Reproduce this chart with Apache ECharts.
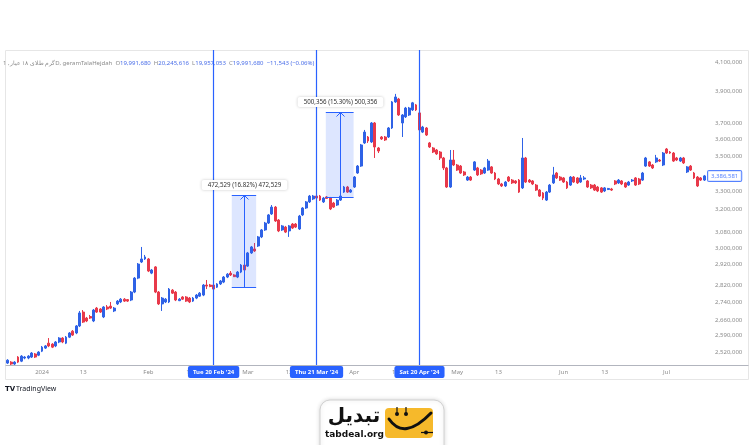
<!DOCTYPE html>
<html>
<head>
<meta charset="utf-8">
<title>geramTalaHejdah</title>
<script src="https://cdn.jsdelivr.net/npm/echarts@6.0.0/dist/echarts.min.js"></script>
<style>
html,body{margin:0;padding:0;background:#ffffff;}
#chart{width:755px;height:445px;}
</style>
</head>
<body>
<div id="chart"></div>
<script>
// ---------------- data (prices in thousands) ----------------
const firstDate = '2023-12-22';
const PRICE_UNIT = 1000;
const opens = [
2474,2478,2470,2499,2482,2495,2495,2499,2512,2507,
2524,2537,2558,2554,2546,2563,2580,2558,2584,2610,
2602,2633,2695,2668,2675,2655,2713,2709,2673,2718,
2722,2700,2732,2741,2754,2752,2750,2787,2853,2931,
2946,2946,2877,2907,2787,2732,2741,2741,2796,2787,
2747,2764,2764,2759,2745,2759,2768,2773,2820,2820,
2820,2810,2825,2834,2858,2877,2868,2858,2882,2916,
2911,2976,2996,3011,3057,3093,3129,3177,3214,3145,
3093,3108,3088,3124,3124,3098,3172,3209,3242,3258,
3274,3274,3242,3269,3263,3236,3225,3252,3296,3324,
3296,3324,3403,3443,3579,3615,3585,3701,3549,3615,
3615,3615,3670,3834,3853,3701,3739,3751,3783,3815,
3764,3645,3670,3579,3549,3537,3525,3490,3432,3324,
3478,3449,3443,3409,3363,3380,3420,3432,3420,3403,
3420,3438,3403,3369,3341,3330,3380,3363,3358,3363,
3319,3490,3363,3358,3335,3307,3291,3252,3296,3347,
3403,3380,3375,3352,3335,3380,3375,3352,3369,3358,
3335,3335,3324,3319,3302,3310,3313,3358,3347,3358,
3347,3335,3358,3375,3369,3363,3443,3467,3449,3467,
3478,3449,3543,3525,3519,3490,3472,3490,3409,3443,
3403,3380,3375,3363
];
const closes = [
2486,2470,2478,2478,2503,2499,2503,2516,2499,2520,
2541,2546,2546,2541,2563,2580,2563,2584,2602,2593,
2633,2691,2650,2655,2668,2704,2695,2695,2718,2709,
2713,2713,2745,2754,2745,2745,2787,2853,2921,2946,
2956,2887,2892,2787,2732,2759,2754,2801,2782,2750,
2754,2754,2745,2741,2759,2773,2782,2820,2815,2813,
2801,2825,2839,2858,2872,2868,2860,2882,2916,2892,
2976,3006,2986,3057,3093,3129,3172,3214,3140,3088,
3114,3082,3114,3103,3108,3166,3209,3242,3274,3274,
3263,3252,3263,3261,3204,3214,3252,3274,3324,3296,
3307,3380,3443,3567,3645,3591,3701,3555,3531,3603,
3597,3670,3834,3866,3751,3751,3795,3795,3828,3783,
3658,3676,3627,3555,3525,3514,3490,3432,3324,3478,
3449,3420,3403,3392,3380,3363,3467,3392,3398,3432,
3472,3403,3369,3341,3330,3352,3358,3347,3347,3296,
3490,3352,3352,3341,3307,3274,3263,3296,3335,3392,
3375,3363,3352,3319,3380,3352,3347,3375,3375,3324,
3319,3307,3302,3296,3319,3316,3307,3341,3363,3341,
3324,3352,3363,3335,3341,3403,3490,3443,3432,3490,
3472,3519,3519,3519,3472,3478,3490,3461,3438,3420,
3375,3330,3363,3386.581
];
const lows = [
2470,2466,2466,2474,2478,2490,2490,2495,2495,2503,
2520,2533,2541,2537,2541,2558,2558,2554,2580,2589,
2597,2628,2646,2650,2664,2650,2691,2691,2668,2704,
2709,2695,2727,2736,2741,2741,2745,2782,2848,2926,
2941,2882,2872,2782,2727,2700,2736,2736,2778,2745,
2745,2750,2741,2736,2741,2754,2764,2768,2801,2810,
2796,2806,2820,2829,2853,2863,2858,2853,2877,2887,
2907,2971,2981,3006,3051,3088,3124,3172,3135,3082,
3088,3077,3057,3098,3103,3093,3166,3204,3236,3252,
3258,3247,3236,3258,3198,3209,3220,3247,3291,3291,
3291,3319,3398,3438,3573,3579,3579,3490,3519,3597,
3591,3609,3664,3828,3745,3615,3732,3745,3776,3776,
3652,3639,3621,3549,3519,3508,3478,3420,3319,3319,
3443,3415,3398,3386,3358,3358,3415,3386,3392,3398,
3415,3398,3363,3335,3324,3324,3352,3341,3341,3291,
3313,3347,3347,3335,3302,3269,3252,3247,3291,3341,
3369,3358,3347,3313,3330,3347,3341,3347,3363,3319,
3313,3302,3296,3291,3296,3307,3302,3335,3341,3335,
3319,3330,3352,3330,3335,3358,3438,3438,3426,3461,
3467,3443,3514,3514,3467,3472,3467,3455,3403,3415,
3369,3324,3358,3358
];
const highs = [
2490,2482,2482,2503,2507,2503,2507,2520,2516,2524,
2546,2550,2580,2558,2567,2584,2584,2589,2606,2615,
2637,2700,2704,2673,2682,2709,2718,2713,2722,2727,
2741,2718,2750,2759,2759,2754,2792,2858,2926,3006,
2966,2951,2897,2911,2792,2764,2759,2806,2801,2792,
2759,2768,2768,2764,2764,2778,2787,2825,2844,2825,
2825,2829,2844,2863,2877,2887,2872,2887,2921,2921,
2981,3011,3026,3062,3098,3135,3177,3225,3220,3150,
3119,3114,3119,3129,3129,3172,3214,3247,3280,3280,
3280,3280,3269,3274,3269,3242,3258,3280,3330,3330,
3313,3386,3449,3573,3658,3621,3707,3707,3555,3621,
3621,3676,3840,3886,3860,3757,3802,3802,3834,3821,
3770,3683,3676,3585,3555,3543,3531,3496,3438,3537,
3537,3455,3449,3415,3386,3386,3472,3438,3426,3438,
3484,3443,3409,3375,3347,3358,3386,3369,3363,3369,
3609,3496,3369,3363,3341,3313,3296,3302,3341,3438,
3409,3386,3380,3358,3386,3386,3380,3392,3386,3363,
3341,3341,3330,3324,3324,3319,3319,3363,3369,3363,
3352,3358,3369,3380,3375,3409,3496,3472,3455,3508,
3484,3525,3549,3531,3525,3496,3496,3496,3443,3449,
3409,3386,3380,3392
];
const yTicks = [2520000,2590000,2660000,2740000,2820000,2920000,3000000,3080000,3200000,3300000,3500000,3600000,3700000,3900000,4100000];
const xTickLabels = {
  '2024-01-01':'2024','2024-01-13':'13','2024-02-01':'Feb','2024-02-13':'13',
  '2024-03-01':'Mar','2024-03-13':'13','2024-04-01':'Apr','2024-04-13':'13',
  '2024-05-01':'May','2024-05-13':'13','2024-06-01':'Jun','2024-06-13':'13','2024-07-01':'Jul'
};
const markerDates = ['2024-02-20','2024-03-21','2024-04-20'];
const markerLabels = ["Tue 20 Feb '24","Thu 21 Mar '24","Sat 20 Apr '24"];
const measureStart = [65.3, 92.7];
const measureEnd = [72.4, 100.8];
const measureLow = [2809328, 3270300];
const measureHigh = [3281857, 3770656];
const yMin = 2466000, yMax = 4183000;
const headerName = 'گرم طلای ۱۸ عیار, 1D, geramTalaHejdah';
const headerValues = [['O','19,991,680'],['H','20,245,616'],['L','19,957,053'],['C','19,991,680']];
const headerChange = '−11,543 (−0.06%)';

// ---------------- build ----------------
const UP = '#2f62e6', DOWN = '#e8394a', BLUE = '#2962ff', GREY = '#8c8c8c';
const FONT = 'Noto Sans';
const dates = [];
(function(){
  const p = firstDate.split('-').map(Number);
  const t0 = Date.UTC(p[0], p[1]-1, p[2]);
  for (let i = 0; i < opens.length; i++) dates.push(new Date(t0 + i*86400000).toISOString().slice(0,10));
})();
const candleData = opens.map((o,i) => [o, closes[i], lows[i], highs[i]].map(v => Math.round(v*PRICE_UNIT)));
const fmt = v => Math.round(v).toLocaleString('en-US');
const lastClose = candleData[candleData.length-1][1];

const markLineData = markerDates.map((d,i) => ({
  xAxis: d,
  lineStyle: {color: BLUE, width: 1.2, type: 'solid', opacity: 1},
  label: {show: true, position: 'start', distance: 1, formatter: markerLabels[i],
    color: '#fff', backgroundColor: BLUE, padding: [3,5,2,5], borderRadius: 2,
    fontSize: 6, fontFamily: FONT, fontWeight: 'bold', lineHeight: 7}
}));

let headerRich = '{g|' + headerName + '}';
headerValues.forEach(h => { headerRich += '  {g|' + h[0] + '}{v|' + h[1] + '}'; });
headerRich += '  {v|' + headerChange + '}';

const chart = echarts.init(document.getElementById('chart'), null, {renderer: 'canvas'});
chart.setOption({
  animation: false,
  backgroundColor: '#ffffff',
  grid: {left: 6, right: 49, top: 50, bottom: 80, containLabel: false, outerBoundsMode: 'none'},
  xAxis: {
    type: 'category', data: dates, boundaryGap: true,
    axisLine: {show: true, lineStyle: {color: '#b2b5be', width: 1}},
    axisTick: {show: false}, splitLine: {show: false},
    axisLabel: {
      interval: (idx, val) => Object.prototype.hasOwnProperty.call(xTickLabels, val),
      formatter: v => xTickLabels[v] || '',
      color: GREY, fontSize: 6, fontFamily: FONT, margin: 4, hideOverlap: false
    }
  },
  yAxis: {
    type: 'log', logBase: 10, position: 'right', min: yMin, max: yMax,
    axisLine: {show: false}, axisTick: {show: false}, splitLine: {show: false},
    axisLabel: {customValues: yTicks, formatter: v => fmt(v), color: GREY, fontSize: 6,
      fontFamily: FONT, margin: 9, align: 'left', hideOverlap: false}
  },
  series: [
    {
      type: 'candlestick', data: candleData, barWidth: '70%',
      itemStyle: {color: UP, color0: DOWN, borderColor: UP, borderColor0: DOWN, borderWidth: 1},
      markLine: {symbol: ['none','none'], silent: true, animation: false, precision: 0,
        lineStyle: {color: BLUE, width: 1.2, type: 'solid', opacity: 1}, data: markLineData}
    },
    {
      // last price tag on the price scale
      type: 'scatter', silent: true, z: 6, symbolSize: 0,
      data: [[dates[dates.length - 1], lastClose]],
      label: {show: true, position: 'right', distance: 2 + 700 / dates.length / 2,
        formatter: p => fmt(p.value[1]), color: BLUE, backgroundColor: '#fff',
        borderColor: BLUE, borderWidth: 1, padding: [2,3,1,3], borderRadius: 1,
        fontSize: 6, fontFamily: FONT, lineHeight: 7}
    },
    {
      type: 'custom', silent: true, clip: false, z: 5,
      data: measureLow.map((lo,i) => [Math.floor(measureStart[i]), lo]),
      encode: {x: 0, y: 1},
      renderItem: (params, api) => {
        const i = params.dataIndex;
        const s = measureStart[i], e = measureEnd[i];
        const lo = measureLow[i], hi = measureHigh[i];
        const bw = api.size([1, 0])[0];
        const sf = Math.floor(s), ef = Math.floor(e);
        const x0 = api.coord([sf, lo])[0] + (s - sf) * bw;
        const x1 = api.coord([ef, lo])[0] + (e - ef) * bw;
        const yLo = Math.round(api.coord([sf, lo])[1]) + 0.5;
        const yHi = Math.round(api.coord([sf, hi])[1]) + 0.5;
        const cx = Math.round((x0 + x1) / 2) + 0.5;
        const diff = hi - lo;
        const txt = fmt(diff) + ' (' + (diff / lo * 100).toFixed(2) + '%) ' + fmt(diff);
        return {
          type: 'group',
          children: [
            {type: 'rect', shape: {x: x0, y: yHi, width: x1 - x0, height: yLo - yHi}, style: {fill: 'rgba(41,98,255,0.16)'}},
            {type: 'line', shape: {x1: x0, y1: yHi, x2: x1, y2: yHi}, style: {stroke: BLUE, lineWidth: 1}},
            {type: 'line', shape: {x1: x0, y1: yLo, x2: x1, y2: yLo}, style: {stroke: BLUE, lineWidth: 1}},
            {type: 'line', shape: {x1: cx, y1: yLo, x2: cx, y2: yHi}, style: {stroke: BLUE, lineWidth: 1}},
            {type: 'polyline', shape: {points: [[cx - 4, yHi + 4], [cx, yHi], [cx + 4, yHi + 4]]}, style: {stroke: BLUE, fill: null, lineWidth: 1}},
            {type: 'text', x: cx, y: yHi - 10.5, style: {text: txt, align: 'center', verticalAlign: 'middle',
              fill: '#333', font: '6.2px "Noto Sans"', backgroundColor: '#fff', padding: [2, 6, 2, 6], borderRadius: 2,
              shadowBlur: 3, shadowColor: 'rgba(0,0,0,0.22)'}}
          ]
        };
      }
    }
  ],
  graphic: [
    {type: 'rect', silent: true, z: -10, shape: {x: 5.5, y: 50.5, width: 743, height: 329},
      style: {fill: null, stroke: '#e6e6e6', lineWidth: 1}},
    {type: 'line', silent: true, shape: {x1: 706, y1: 365.5, x2: 748.5, y2: 365.5}, style: {stroke: '#b2b5be', lineWidth: 1}},
    {type: 'text', silent: true, x: 3, y: 63, style: {text: headerRich, verticalAlign: 'middle',
      rich: {g: {fill: GREY, fontSize: 6, fontFamily: FONT}, v: {fill: '#4a6ee8', fontSize: 6, fontFamily: FONT}},
      fill: GREY, fontSize: 6, fontFamily: FONT}},
    {type: 'text', silent: true, x: 5, y: 389, style: {text: 'TV', verticalAlign: 'middle', fill: '#131722', font: 'bold 7px "DejaVu Sans"'}},
    {type: 'text', silent: true, x: 16, y: 389, style: {text: 'TradingView', verticalAlign: 'middle', fill: '#131722', font: '7px "Noto Sans"'}},
    // tabdeal logo
    {type: 'rect', silent: true, shape: {x: 320, y: 400, width: 124, height: 60, r: 10},
      style: {fill: '#fff', stroke: '#d2d2d2', lineWidth: 1, shadowBlur: 4, shadowColor: 'rgba(0,0,0,0.15)'}},
    {type: 'text', silent: true, x: 354, y: 417, style: {text: 'تبدیل', align: 'center', verticalAlign: 'middle', fill: '#111', font: 'bold 20px "DejaVu Sans"'}},
    {type: 'text', silent: true, x: 354.5, y: 434.5, style: {text: 'tabdeal.org', align: 'center', verticalAlign: 'middle', fill: '#111', font: 'bold 9px "DejaVu Sans"'}},
    {type: 'rect', silent: true, shape: {x: 385, y: 408, width: 48, height: 30, r: 4}, style: {fill: '#f6b92b'}},
    {type: 'bezierCurve', silent: true, shape: {x1: 389, y1: 419, cpx1: 404, cpy1: 441, x2: 431, y2: 413}, style: {fill: null, stroke: '#111', lineWidth: 3, lineCap: 'round'}},
    {type: 'line', silent: true, shape: {x1: 397, y1: 414, x2: 397, y2: 407}, style: {stroke: '#111', lineWidth: 1.2}},
    {type: 'line', silent: true, shape: {x1: 406, y1: 414, x2: 406, y2: 407}, style: {stroke: '#111', lineWidth: 1.2}},
    {type: 'circle', silent: true, shape: {cx: 397, cy: 414, r: 2}, style: {fill: '#111'}},
    {type: 'circle', silent: true, shape: {cx: 406, cy: 414, r: 2}, style: {fill: '#111'}},
    {type: 'line', silent: true, shape: {x1: 421, y1: 432.5, x2: 433, y2: 432.5}, style: {stroke: '#111', lineWidth: 1.2}},
    {type: 'circle', silent: true, shape: {cx: 426, cy: 432.5, r: 2}, style: {fill: '#111'}}
  ]
});
</script>
</body>
</html>
